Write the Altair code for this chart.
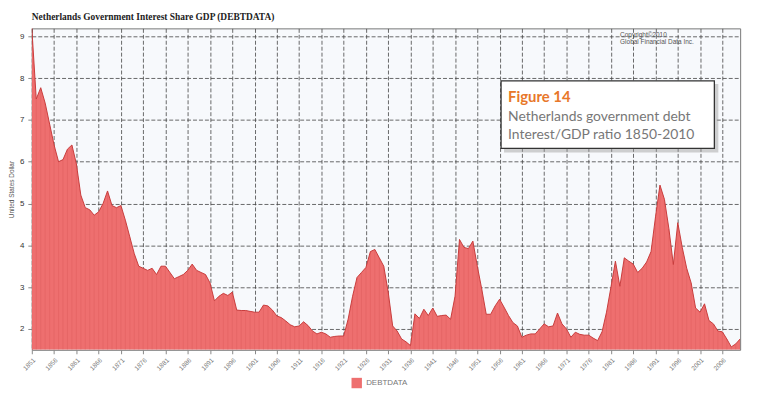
import altair as alt
import pandas as pd

years = list(range(1851, 2011))
values = [
    9.2, 7.5, 7.77, 7.4, 6.9, 6.4, 6.0, 6.05, 6.3, 6.4,            # 1851-1860
    5.95, 5.2, 4.9, 4.85, 4.72, 4.8, 5.0, 5.3, 4.95, 4.9,           # 1861-1870
    4.95, 4.6, 4.2, 3.8, 3.5, 3.45, 3.4, 3.45, 3.3, 3.5,            # 1871-1880
    3.5, 3.35, 3.2, 3.25, 3.3, 3.4, 3.55, 3.4, 3.35, 3.3,           # 1881-1890
    3.1, 2.67, 2.78, 2.85, 2.8, 2.88, 2.45, 2.44, 2.44, 2.42,       # 1891-1900
    2.4, 2.4, 2.57, 2.55, 2.45, 2.31, 2.27, 2.19, 2.1, 2.05,        # 1901-1910
    2.07, 2.17, 2.08, 1.95, 1.88, 1.92, 1.88, 1.8, 1.82, 1.83,      # 1911-1920
    1.83, 2.23, 2.78, 3.23, 3.35, 3.47, 3.85, 3.9, 3.7, 3.5,        # 1921-1930
    2.88, 2.07, 1.95, 1.76, 1.69, 1.6, 2.36, 2.25, 2.47, 2.32,      # 1931-1940
    2.5, 2.3, 2.32, 2.33, 2.23, 2.78, 4.14, 3.95, 3.92, 4.1,        # 1941-1950
    3.5, 2.95, 2.35, 2.35, 2.55, 2.71, 2.52, 2.32, 2.15, 2.07,      # 1951-1960
    1.8, 1.85, 1.88, 1.88, 2.0, 2.12, 2.05, 2.07, 2.38, 2.12,       # 1961-1970
    2.0, 1.8, 1.92, 1.87, 1.85, 1.85, 1.78, 1.72, 1.93, 2.4,        # 1971-1980
    3.0, 3.62, 3.02, 3.7, 3.62, 3.55, 3.35, 3.45, 3.6, 3.85,        # 1981-1990
    4.68, 5.44, 5.1, 4.4, 3.54, 4.54, 3.95, 3.45, 3.1, 2.5,         # 1991-2000
    2.4, 2.6, 2.2, 2.12, 1.95, 1.93, 1.76, 1.57, 1.64, 1.76,        # 2001-2010
]
series_name = "DEBTDATA"
x_ticks = list(range(1851, 2007, 5))
y_ticks = [2, 3, 4, 5, 6, 7, 8, 9]

title_text = "Netherlands Government Interest Share GDP (DEBTDATA)"
copyright_lines = ["Copyright\u00a92010", "Global Financial Data Inc."]
fig_label = "Figure 14"
fig_lines = ["Netherlands government debt", "Interest/GDP ratio 1850-2010"]

df = pd.DataFrame({"year": years, "value": values, "series": series_name})
one = pd.DataFrame({"a": [0]})

Y_MIN, Y_MAX = 1.5, 9.19

x_scale = alt.Scale(domain=[1851, 2010], nice=False, zero=False)
y_scale = alt.Scale(domain=[Y_MIN, Y_MAX], nice=False, zero=False)

x_axis = alt.Axis(
    values=x_ticks, format="d", labelAngle=-45, labelFontSize=6.5,
    labelColor="#777", labelFont="Liberation Sans", labelPadding=3,
    labelOverlap=False, labelBound=False, tickCount=len(x_ticks),
    grid=True, gridDash=[4, 2], gridColor="#444", gridWidth=0.8,
    tickColor="#888", tickSize=4, domain=False, title=None,
)
y_axis = alt.Axis(
    values=y_ticks, labelFontSize=8, labelColor="#333",
    labelFont="Liberation Sans", labelPadding=4,
    grid=True, gridDash=[4, 2], gridColor="#444", gridWidth=0.8,
    tickColor="#888", tickSize=4, domain=False,
    title="United States Dollar", titleFontSize=6.5,
    titleFontWeight="normal", titleColor="#555",
    titleFont="Liberation Sans", titlePadding=5,
)

x_enc = alt.X("year:Q", scale=x_scale, axis=x_axis)
y_enc = alt.Y("value:Q", scale=y_scale, axis=y_axis)

area = alt.Chart(df).mark_area(clip=True, opacity=1).encode(
    x=x_enc,
    y=y_enc,
    y2=alt.datum(Y_MIN),
    color=alt.Color(
        "series:N",
        scale=alt.Scale(range=["#ee6f6f"]),
        legend=alt.Legend(
            orient="none", legendX=322, legendY=352, title=None,
            symbolType="square", symbolSize=110, symbolStrokeWidth=0,
            labelFontSize=8, labelColor="#777", labelFont="Liberation Sans",
        ),
    ),
)

stripes = alt.Chart(df).mark_rule(clip=True, color="#d24f4f", strokeWidth=0.6, opacity=0.45).encode(
    x=x_enc, y=y_enc, y2=alt.datum(Y_MIN)
)

outline = alt.Chart(df).mark_line(clip=True, color="#c73c3c", strokeWidth=1).encode(
    x=x_enc, y=y_enc
)

title = alt.Chart(one).mark_text(
    align="left", baseline="alphabetic", font="Liberation Serif",
    fontWeight="bold", fontSize=9.5, color="#222"
).encode(x=alt.value(0), y=alt.value(-8), text=alt.value(title_text))

copy1 = alt.Chart(one).mark_text(
    align="left", baseline="alphabetic", font="Liberation Sans", fontSize=6.5, color="#555"
).encode(x=alt.value(593), y=alt.value(9), text=alt.value(copyright_lines[0]))
copy2 = alt.Chart(one).mark_text(
    align="left", baseline="alphabetic", font="Liberation Sans", fontSize=6.5, color="#555"
).encode(x=alt.value(593), y=alt.value(16), text=alt.value(copyright_lines[1]))

shadow = alt.Chart(one).mark_rect(fill="#999", opacity=0.45).encode(
    x=alt.value(476), x2=alt.value(692), y=alt.value(56), y2=alt.value(125)
)
box = alt.Chart(one).mark_rect(fill="white", stroke="#333", strokeWidth=1.3).encode(
    x=alt.value(473), x2=alt.value(688), y=alt.value(53), y2=alt.value(121)
)
fig_t = alt.Chart(one).mark_text(
    align="left", baseline="alphabetic", font="Lato", fontWeight="bold",
    fontSize=15, color="#e8782a"
).encode(x=alt.value(480), y=alt.value(74), text=alt.value(fig_label))
fig_l1 = alt.Chart(one).mark_text(
    align="left", baseline="alphabetic", font="Lato", fontSize=14, color="#777"
).encode(x=alt.value(480), y=alt.value(93), text=alt.value(fig_lines[0]))
fig_l2 = alt.Chart(one).mark_text(
    align="left", baseline="alphabetic", font="Lato", fontSize=14, color="#777"
).encode(x=alt.value(480), y=alt.value(112), text=alt.value(fig_lines[1]))

chart = alt.layer(
    area, stripes, outline, title, copy1, copy2, shadow, box, fig_t, fig_l1, fig_l2
).properties(
    width=714, height=324,
    padding={"left": 24, "top": 19, "right": 20, "bottom": 40},
    autosize=alt.AutoSizeParams(type="none"),
    background="white",
).configure_view(
    stroke="#777", strokeWidth=1, fill="#f7f9fc"
)

chart.save("out.html", embed_options={"renderer": "svg", "actions": False})
